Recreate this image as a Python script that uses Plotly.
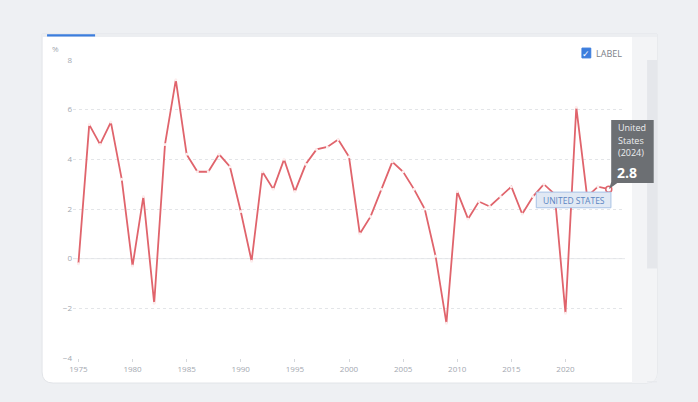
import plotly.graph_objects as go

years = list(range(1975, 2025))
growth = [-0.2, 5.4, 4.6, 5.5, 3.2, -0.3, 2.5, -1.8, 4.6, 7.2,
          4.2, 3.5, 3.5, 4.2, 3.7, 1.9, -0.1, 3.5, 2.8, 4.0,
          2.7, 3.8, 4.4, 4.5, 4.8, 4.1, 1.0, 1.7, 2.8, 3.9,
          3.5, 2.8, 2.0, 0.1, -2.6, 2.7, 1.6, 2.3, 2.1, 2.5,
          2.9, 1.8, 2.5, 3.0, 2.6, -2.2, 6.1, 2.5, 2.9, 2.8]
y_ticks = [-4, -2, 0, 2, 4, 6, 8]
x_ticks = [1975, 1980, 1985, 1990, 1995, 2000, 2005, 2010, 2015, 2020]
tip_lines = ["United", "States", "(2024)"]

red = "#e0646c"
grey_txt = "#a3a8b0"

fig = go.Figure()
fig.add_trace(go.Scatter(
    x=years, y=growth, mode="lines+markers",
    line=dict(color=red, width=1.8),
    marker=dict(size=3, color="#fdeeee", line=dict(width=0)),
    hoverinfo="skip", showlegend=False))
# highlighted last point
fig.add_trace(go.Scatter(
    x=[years[-1]], y=[growth[-1]], mode="markers",
    marker=dict(size=6, color="white", line=dict(color=red, width=1.5)),
    hoverinfo="skip", showlegend=False))

# card with rounded corners (paper units)
x0, x1, y0, y1 = -0.056, 1.058, -0.084, 1.087
rx, ry = 0.02, 0.037
card = (f"M {x0+rx} {y0} L {x1-rx} {y0} Q {x1} {y0} {x1} {y0+ry} "
        f"L {x1} {y1} L {x0} {y1} L {x0} {y0+ry} Q {x0} {y0} {x0+rx} {y0} Z")
strip = (f"M 1.0127 {y0} L {x1-rx} {y0} Q {x1} {y0} {x1} {y0+ry} "
         f"L {x1} {y1} L 1.0127 {y1} Z")

shapes = [
    dict(type="path", xref="paper", yref="paper", layer="below", path=card,
         fillcolor="#ffffff", line=dict(color="#e2e4e8", width=1)),
    dict(type="path", xref="paper", yref="paper", layer="below", path=strip,
         fillcolor="#f3f4f6", line=dict(width=0)),
    dict(type="rect", xref="paper", yref="paper", layer="below",
         x0=1.04, x1=1.058, y0=0.3, y1=1.0,
         fillcolor="#e5e7eb", line=dict(width=0)),
    dict(type="line", xref="paper", yref="paper", layer="below",
         x0=1.04, x1=1.058, y0=-0.08, y1=-0.08,
         line=dict(color="#e5e7eb", width=1)),
    # top thin bar and blue tab
    dict(type="rect", xref="paper", yref="paper", layer="below",
         x0=x0, x1=x1, y0=1.077, y1=1.087,
         fillcolor="#eceef1", line=dict(width=0)),
    dict(type="rect", xref="paper", yref="paper",
         x0=-0.047, x1=0.04, y0=1.079, y1=1.086,
         fillcolor="#3b7ddd", line=dict(width=0)),
    # zero line
    dict(type="line", xref="paper", yref="y", x0=0, x1=1, y0=0, y1=0,
         line=dict(color="#e6e8eb", width=1), layer="below"),
    # checkbox
    dict(type="rect", xref="paper", yref="paper",
         x0=0.922, x1=0.938, y0=1.007, y1=1.04,
         fillcolor="#3b7ddd", line=dict(color="#3b7ddd", width=1)),
    # UNITED STATES label box
    dict(type="rect", xref="x", yref="y", x0=2017.3, x1=2024.2, y0=2.05, y1=2.68,
         fillcolor="#e1e9f4", line=dict(color="#a8c2e6", width=1)),
    # tooltip box
    dict(type="rect", xref="paper", yref="paper", x0=0.975, x1=1.052,
         y0=0.587, y1=0.799, fillcolor="#6c6f73", line=dict(width=0)),
    dict(type="path", xref="paper", yref="paper",
         path="M 0.975 0.59 L 0.971 0.567 L 0.988 0.59 Z",
         fillcolor="#6c6f73", line=dict(width=0)),
]

annotations = [
    dict(text="%", xref="paper", yref="paper", x=-0.042, y=1.037, showarrow=False,
         font=dict(size=8, color=grey_txt), xanchor="left", yanchor="middle"),
    dict(text="✓", xref="paper", yref="paper", x=0.930, y=1.023, showarrow=False,
         font=dict(size=9, color="white"), xanchor="center", yanchor="middle"),
    dict(text="LABEL", xref="paper", yref="paper", x=0.943, y=1.023, showarrow=False,
         font=dict(size=9, color="#7d828a"), xanchor="left", yanchor="middle"),
    dict(text="UNITED STATES", xref="x", yref="y", x=2020.75, y=2.36, showarrow=False,
         font=dict(size=8.5, color="#5b85c2"), xanchor="center", yanchor="middle"),
    dict(text="<b>2.8</b>", xref="paper", yref="paper", x=0.982, y=0.623,
         showarrow=False, xanchor="left", yanchor="middle",
         font=dict(size=14, color="white")),
]
for i, t in enumerate(tip_lines):
    annotations.append(dict(text=t, xref="paper", yref="paper",
                            x=0.984, y=0.772 - i * 0.042, showarrow=False,
                            xanchor="left", yanchor="middle",
                            font=dict(size=9, color="#eceef0")))

fig.update_layout(
    width=698, height=402,
    margin=dict(l=73, r=73, t=60, b=44),
    paper_bgcolor="#eef0f3", plot_bgcolor="rgba(0,0,0,0)",
    font=dict(family="Open Sans", color=grey_txt, size=8),
    shapes=shapes, annotations=annotations,
    xaxis=dict(range=[1974.5, 2025.5], tickvals=x_ticks, showgrid=False,
               zeroline=False, showline=False, ticks="outside", ticklen=3,
               tickcolor="#d5d8dc", tickfont=dict(size=8, color=grey_txt)),
    yaxis=dict(range=[-4, 8], tickvals=y_ticks, showgrid=True,
               gridcolor="#e3e5e8", griddash="dot", gridwidth=1,
               zeroline=False, showline=False, ticks="",
               tickfont=dict(size=8, color=grey_txt)),
)

fig.write_html("out.html", config={"displayModeBar": False},
               post_script="document.body.style.margin='0px';"
                           "document.body.style.background='#eef0f3';")
